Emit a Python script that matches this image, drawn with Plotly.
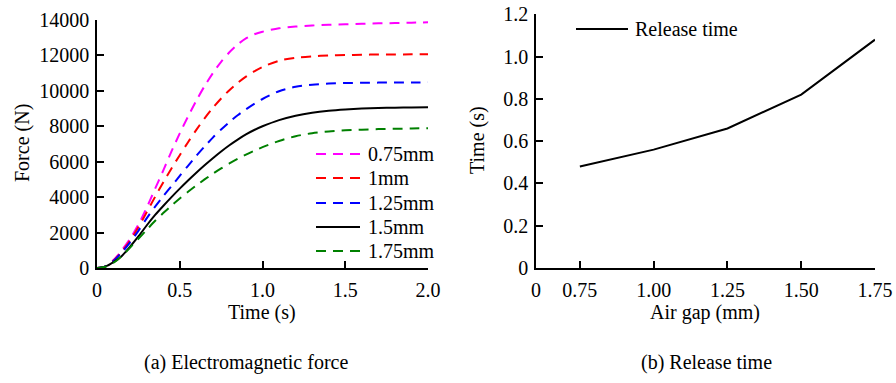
import plotly.graph_objects as go

# ---------------- data ----------------
time_s = [0, 0.05, 0.1, 0.15, 0.2, 0.25, 0.3, 0.35, 0.4, 0.45, 0.5, 0.55, 0.6, 0.65, 0.7,
          0.75, 0.8, 0.85, 0.9, 0.95, 1.0, 1.1, 1.2, 1.3, 1.4, 1.5, 1.6, 1.7, 1.8, 1.9, 2.0]

force_075mm = [0, 90, 450, 1000, 1650, 2450, 3400, 4450, 5500, 6580, 7600, 8550, 9450, 10270, 11000,
               11640, 12180, 12620, 12960, 13190, 13340, 13530, 13630, 13690, 13730, 13760, 13790,
               13810, 13830, 13850, 13870]
force_1mm = [0, 90, 420, 930, 1550, 2300, 3150, 4000, 4830, 5620, 6370, 7100, 7800, 8450, 9040,
             9570, 10040, 10450, 10800, 11100, 11350, 11700, 11870, 11950, 12000, 12020, 12040,
             12050, 12055, 12060, 12060]
force_125mm = [0, 90, 400, 880, 1450, 2100, 2800, 3450, 4050, 4620, 5200, 5770, 6330, 6860, 7360,
               7820, 8240, 8620, 8960, 9270, 9540, 9980, 10230, 10350, 10410, 10440, 10455,
               10465, 10470, 10475, 10480]
force_15mm = [0, 80, 330, 680, 1200, 1780, 2400, 2980, 3500, 4000, 4480, 4940, 5380, 5800, 6200,
              6580, 6930, 7250, 7540, 7790, 8000, 8350, 8600, 8770, 8880, 8950, 9000,
              9030, 9050, 9065, 9075]
force_175mm = [0, 70, 300, 680, 1150, 1650, 2150, 2650, 3100, 3520, 3920, 4300, 4660, 5000, 5320,
               5620, 5900, 6160, 6400, 6620, 6820, 7170, 7440, 7610, 7710, 7770, 7810,
               7840, 7860, 7875, 7890]

series_names = ["0.75mm", "1mm", "1.25mm", "1.5mm", "1.75mm"]
series_values = [force_075mm, force_1mm, force_125mm, force_15mm, force_175mm]

force_ticks = [0, 2000, 4000, 6000, 8000, 10000, 12000, 14000]
time_ticks = [0, 0.5, 1.0, 1.5, 2.0]
time_tick_labels = ["0", "0.5", "1.0", "1.5", "2.0"]

air_gap_mm = [0.75, 1.00, 1.25, 1.50, 1.75]
air_gap_labels = ["0.75", "1.00", "1.25", "1.50", "1.75"]
release_time_s = [0.48, 0.56, 0.66, 0.82, 1.08]
release_ticks = [0, 0.2, 0.4, 0.6, 0.8, 1.0, 1.2]
release_tick_labels = ["0", "0.2", "0.4", "0.6", "0.8", "1.0", "1.2"]

# ---------------- styling ----------------
W, H = 896, 383
FONT = "Liberation Serif"
FS = 20
colors = ["#FF00FF", "#FF0000", "#0000FF", "#000000", "#008000"]
dashes = ["10px,7px", "10px,7px", "10px,7px", "solid", "10px,7px"]


def fx(px):
    return px / W


def fy(py):
    return 1 - py / H


fig = go.Figure()

for name, vals, c, d in zip(series_names, series_values, colors, dashes):
    fig.add_trace(go.Scatter(x=time_s, y=vals, mode="lines", name=name,
                             line=dict(color=c, width=2, dash=d, shape="spline", smoothing=0.8),
                             xaxis="x", yaxis="y", showlegend=False))

fig.add_trace(go.Scatter(x=air_gap_mm, y=release_time_s, mode="lines", name="Release time",
                         line=dict(color="black", width=2),
                         xaxis="x2", yaxis="y2", showlegend=False))

# right-panel broken axis start (labelled "0")
gap_start = 0.75 - 0.25 * 44 / 74

axis_common = dict(showline=True, linecolor="black", linewidth=1.5, ticks="inside",
                   ticklen=7, tickwidth=1.5, tickcolor="black", showgrid=False, zeroline=False,
                   automargin=False, ticklabeloverflow="allow",
                   tickfont=dict(family=FONT, size=FS, color="black"), mirror=False)

fig.update_layout(
    template="none",
    width=W, height=H,
    margin=dict(l=0, r=0, t=0, b=0, pad=0),
    paper_bgcolor="white", plot_bgcolor="white",
    font=dict(family=FONT, size=FS, color="black"),
    xaxis=dict(domain=[fx(97), fx(428)], range=[0, 2.0], tickvals=time_ticks,
               ticktext=time_tick_labels, anchor="y", ticklabelstandoff=3, **axis_common),
    yaxis=dict(domain=[fy(268), fy(20)], range=[0, 14000], tickvals=force_ticks,
               tickformat="d", anchor="x", ticklabelstandoff=2, **axis_common),
    xaxis2=dict(domain=[fx(536), fx(875)], range=[gap_start, 1.75],
                tickvals=[gap_start] + air_gap_mm, ticktext=["0"] + air_gap_labels,
                anchor="y2", ticklabelstandoff=3, **axis_common),
    yaxis2=dict(domain=[fy(268), fy(14.3)], range=[0, 1.2], tickvals=release_ticks,
                ticktext=release_tick_labels, anchor="x2", ticklabelstandoff=2, **axis_common),
)

annotations = [
    dict(text="Force (N)", x=fx(22), y=fy(143), textangle=-90),
    dict(text="Time (s)", x=fx(262), y=fy(312)),
    dict(text="Time (s)", x=fx(477), y=fy(140), textangle=-90),
    dict(text="Air gap (mm)", x=fx(705), y=fy(312)),
    dict(text="(a) Electromagnetic force", x=fx(246), y=fy(362)),
    dict(text="(b) Release time", x=fx(706), y=fy(362)),
]

shapes = []
legend_rows = [154, 178, 203, 227, 251]
for name, c, d, ry in zip(series_names, colors, dashes, legend_rows):
    shapes.append(dict(type="line", xref="paper", yref="paper", x0=fx(316), x1=fx(360),
                       y0=fy(ry), y1=fy(ry), line=dict(color=c, width=2, dash=d)))
    annotations.append(dict(text=name, x=fx(366), y=fy(ry), xanchor="left"))

shapes.append(dict(type="line", xref="paper", yref="paper", x0=fx(576), x1=fx(628),
                   y0=fy(29), y1=fy(29), line=dict(color="black", width=2)))
annotations.append(dict(text="Release time", x=fx(633), y=fy(29), xanchor="left"))

for a in annotations:
    a.setdefault("xanchor", "center")
    a.update(xref="paper", yref="paper", yanchor="middle", showarrow=False,
             font=dict(family=FONT, size=FS, color="black"))

fig.update_layout(annotations=annotations, shapes=shapes)

# remove the default page margin so the figure fills the 896x383 window exactly
fig.write_html("out.html", config={"displayModeBar": False},
               post_script="document.body.style.margin='0';")
